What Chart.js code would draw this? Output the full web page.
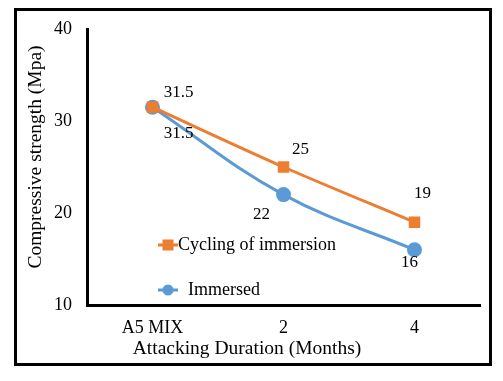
<!DOCTYPE html>
<html><head><meta charset="utf-8">
<script src="https://cdn.jsdelivr.net/npm/chart.js@4/dist/chart.umd.min.js"></script>
<style>html,body{margin:0;padding:0;background:#fff}#wrap{width:503px;height:381px;position:relative}</style>
</head><body><div id="wrap"><canvas id="c" width="503" height="381"></canvas></div>
<script>
const categories = ['A5 MIX', '2', '4'];
const cyclingValues = [31.5, 25, 19];
const immersedValues = [31.5, 22, 16];
const yTicks = [10, 20, 30, 40];
const seriesNames = ['Cycling of immersion', 'Immersed'];
const xTitle = 'Attacking Duration (Months)';
const yTitle = 'Compressive strength (Mpa)';

const ORANGE = '#ED7D31', BLUE = '#5B9BD5';
const FONT = "'Liberation Serif', 'Times New Roman', serif";

const frame = {
  id: 'frame',
  beforeDraw(chart) {
    const c = chart.ctx;
    c.save();
    c.fillStyle = '#fff';
    c.fillRect(0, 0, chart.width, chart.height);
    c.strokeStyle = '#000';
    c.lineWidth = 3;
    c.strokeRect(15.5, 9.5, 475, 355);
    c.restore();
  },
  afterDraw(chart, args, opts) {
    const c = chart.ctx;
    c.save();
    c.font = '19.5px ' + FONT;
    c.fillStyle = '#000';
    c.textAlign = 'center';
    c.textBaseline = 'middle';
    c.fillText(xTitle, opts.xTitleX, opts.xTitleY);
    c.translate(opts.yTitleX, opts.yTitleY);
    c.rotate(-Math.PI / 2);
    c.fillText(yTitle, 0, 0);
    c.restore();
  }
};

const labels = {
  id: 'pointLabels',
  afterDatasetsDraw(chart, args, opts) {
    const c = chart.ctx;
    c.save();
    c.font = '17px ' + FONT;
    c.fillStyle = '#000';
    c.textAlign = 'center';
    c.textBaseline = 'middle';
    chart.data.datasets.forEach((ds, i) => {
      const meta = chart.getDatasetMeta(i);
      meta.data.forEach((pt, j) => {
        const o = opts.offsets[i][j];
        c.fillText(String(ds.data[j]), pt.x + o[0], pt.y + o[1]);
      });
    });
    c.restore();
  }
};

const innerLegend = {
  id: 'innerLegend',
  afterDatasetsDraw(chart, args, opts) {
    const c = chart.ctx;
    c.save();
    c.font = '18px ' + FONT;
    c.textBaseline = 'middle';
    c.textAlign = 'left';
    chart.data.datasets.forEach((ds, i) => {
      const p = opts.items[i];
      c.strokeStyle = ds.borderColor;
      c.lineWidth = 3;
      c.beginPath();
      c.moveTo(p.x, p.y);
      c.lineTo(p.x + 20, p.y);
      c.stroke();
      c.fillStyle = ds.borderColor;
      const cx = p.x + 10;
      if (ds.pointStyle === 'rect') {
        c.fillRect(cx - 5.5, p.y - 5.5, 11, 11);
      } else {
        c.beginPath();
        c.arc(cx, p.y, 5.5, 0, Math.PI * 2);
        c.fill();
      }
      c.fillStyle = '#000';
      c.fillText(ds.label, p.x + p.tx, p.y);
    });
    c.restore();
  }
};

new Chart(document.getElementById('c'), {
  type: 'line',
  data: {
    labels: categories,
    datasets: [
      { label: seriesNames[0], data: cyclingValues, borderColor: ORANGE, backgroundColor: ORANGE,
        borderWidth: 3, pointStyle: 'rect', pointRadius: 6, pointHoverRadius: 6, tension: 0.3 },
      { label: seriesNames[1], data: immersedValues, borderColor: BLUE, backgroundColor: BLUE,
        borderWidth: 3, pointStyle: 'circle', pointRadius: 6, pointHoverRadius: 6, tension: 0.4 }
    ]
  },
  options: {
    responsive: false,
    animation: false,
    events: [],
    layout: { padding: { left: 20, top: 29, right: 23, bottom: 20 } },
    plugins: {
      legend: { display: false },
      tooltip: { enabled: false },
      frame: { yTitleX: 36, yTitleY: 157, xTitleX: 247, xTitleY: 349 },
      pointLabels: { offsets: [ [[26, -15], [17, -17], [8, -29]], [[26, 26], [-22, 20], [-5, 13]] ] },
      innerLegend: { items: [ { x: 158, y: 245, tx: 20 }, { x: 158, y: 290, tx: 30 } ] }
    },
    scales: {
      x: {
        offset: true,
        grid: { display: false, drawTicks: false },
        border: { display: true, color: '#000', width: 3 },
        ticks: { color: '#000', font: { family: FONT, size: 18 }, padding: 12 },
        title: { display: false },
        afterFit(s) { s.height = 56; }
      },
      y: {
        min: yTicks[0], max: yTicks[yTicks.length - 1],
        afterBuildTicks(s) { s.ticks = yTicks.map(v => ({ value: v })); },
        grid: { display: false, drawTicks: false },
        border: { display: true, color: '#000', width: 3 },
        ticks: { color: '#000', font: { family: FONT, size: 18 }, padding: 15 },
        title: { display: false },
        afterFit(s) { s.width = 67; }
      }
    }
  },
  plugins: [frame, labels, innerLegend]
});
</script>
</body></html>
